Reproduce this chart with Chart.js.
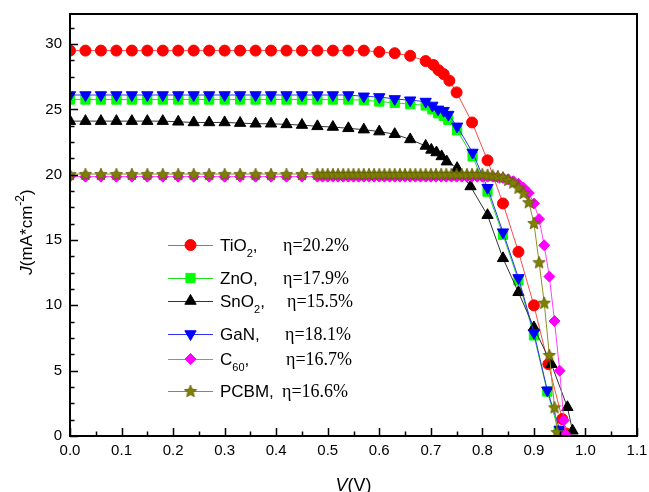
<!DOCTYPE html>
<html>
<head>
<meta charset="utf-8">
<script src="https://cdn.jsdelivr.net/npm/chart.js@4.4.1/dist/chart.umd.min.js"></script>
<style>
  html, body { margin: 0; padding: 0; background: #fff; }
</style>
</head>
<body>
<canvas id="jv" width="649" height="492"></canvas>
<script>
// J-V curves, voltage in V, current density in mA/cm2
const sparseV = [0, 0.03, 0.06, 0.09, 0.12, 0.15, 0.18, 0.21, 0.24, 0.27, 0.30, 0.33,
  0.36, 0.39, 0.42, 0.45, 0.48, 0.51, 0.54, 0.57, 0.60, 0.63, 0.66];

const tioV = sparseV.concat([0.69, 0.705, 0.715, 0.725, 0.736, 0.75, 0.78, 0.81, 0.84, 0.87, 0.90, 0.928, 0.955, 0.962]);
const tioJ = [29.5, 29.5, 29.5, 29.5, 29.5, 29.5, 29.5, 29.5, 29.5, 29.5, 29.5, 29.5,
  29.5, 29.5, 29.5, 29.5, 29.5, 29.5, 29.5, 29.5, 29.4, 29.3, 29.1,
  28.7, 28.4, 28.0, 27.7, 27.2, 26.3, 24.0, 21.1, 17.8, 14.1, 10.0, 5.5, 1.3, 0.2];

const znoV = sparseV.concat([0.69, 0.703, 0.714, 0.725, 0.734, 0.751, 0.781, 0.81, 0.84, 0.87, 0.90, 0.926, 0.948]);
const znoJ = [25.75, 25.75, 25.75, 25.75, 25.75, 25.75, 25.75, 25.75, 25.75, 25.75, 25.75, 25.75,
  25.75, 25.75, 25.75, 25.75, 25.75, 25.75, 25.75, 25.7, 25.6, 25.5, 25.4,
  25.3, 25.0, 24.7, 24.5, 24.2, 23.4, 21.4, 18.7, 15.4, 11.9, 7.7, 3.4, 0.4];

const snoV = sparseV.concat([0.69, 0.701, 0.711, 0.721, 0.731, 0.751, 0.777, 0.81, 0.84, 0.87, 0.90, 0.934, 0.965, 0.975]);
const snoJ = [24.1, 24.1, 24.1, 24.1, 24.1, 24.1, 24.1, 24.05, 24.0, 24.0, 24.0, 23.95,
  23.9, 23.9, 23.85, 23.8, 23.7, 23.65, 23.55, 23.45, 23.3, 23.1, 22.7,
  22.2, 21.9, 21.7, 21.4, 21.0, 20.5, 19.1, 16.9, 13.6, 11.0, 8.3, 5.5, 2.2, 0.4];

const ganV = sparseV.concat([0.69, 0.703, 0.714, 0.725, 0.734, 0.751, 0.781, 0.81, 0.84, 0.87, 0.90, 0.926, 0.95]);
const ganJ = [26.1, 26.1, 26.1, 26.1, 26.1, 26.1, 26.1, 26.1, 26.1, 26.1, 26.1, 26.1,
  26.1, 26.1, 26.1, 26.1, 26.1, 26.1, 26.1, 26.0, 25.95, 25.8, 25.7,
  25.6, 25.3, 25.0, 24.9, 24.6, 23.7, 21.7, 19.0, 15.6, 12.1, 7.9, 3.5, 0.5];

// fullerene devices were swept finer past 0.45 V
const fullV = [0, 0.03, 0.06, 0.09, 0.12, 0.15, 0.18, 0.21, 0.24, 0.27, 0.30, 0.33, 0.36, 0.39, 0.42, 0.45];
const denseV = [0.48, 0.49, 0.50, 0.51, 0.52, 0.53, 0.54, 0.55, 0.56, 0.57, 0.58, 0.59,
  0.60, 0.61, 0.62, 0.63, 0.64, 0.65, 0.66, 0.67, 0.68, 0.69, 0.70, 0.71,
  0.72, 0.73, 0.74, 0.75, 0.76, 0.77, 0.78, 0.79, 0.80, 0.81, 0.82, 0.83,
  0.84, 0.85, 0.86, 0.87, 0.88, 0.89, 0.90];

const c60V = fullV.concat(denseV, [0.91, 0.92, 0.93, 0.94, 0.95, 0.958, 0.962]);
const c60J = [19.85, 19.85, 19.85, 19.85, 19.85, 19.85, 19.85, 19.85, 19.85, 19.85, 19.85, 19.85, 19.85, 19.85, 19.85, 19.85,
  19.85, 19.85, 19.85, 19.85, 19.85, 19.85, 19.85, 19.85, 19.85, 19.85, 19.85, 19.85,
  19.85, 19.85, 19.85, 19.85, 19.85, 19.85, 19.85, 19.85, 19.85, 19.85, 19.85, 19.85,
  19.85, 19.85, 19.85, 19.85, 19.85, 19.85, 19.85, 19.85, 19.85, 19.85, 19.85, 19.8,
  19.75, 19.65, 19.5, 19.3, 19.0, 18.6, 17.8,
  16.6, 14.6, 12.2, 8.8, 5.0, 1.2, 0.1];

const pcbmV = fullV.concat(denseV, [0.91, 0.92, 0.93, 0.94, 0.945]);
const pcbmJ = [20.05, 20.05, 20.05, 20.05, 20.05, 20.05, 20.05, 20.05, 20.05, 20.05, 20.05, 20.05, 20.05, 20.05, 20.05, 20.05,
  20.05, 20.05, 20.05, 20.05, 20.05, 20.05, 20.05, 20.05, 20.05, 20.05, 20.05, 20.05,
  20.05, 20.05, 20.05, 20.05, 20.05, 20.05, 20.05, 20.05, 20.05, 20.05, 20.05, 20.05,
  20.05, 20.05, 20.05, 20.05, 20.05, 20.05, 20.05, 20.05, 20.05, 20.0, 19.95, 19.9,
  19.8, 19.6, 19.4, 19.0, 18.6, 17.9, 16.3,
  13.3, 10.2, 6.2, 2.2, 0.3];

const xTickLabels = ['0.0', '0.1', '0.2', '0.3', '0.4', '0.5', '0.6', '0.7', '0.8', '0.9', '1.0', '1.1'];
const yTickLabels = ['0', '5', '10', '15', '20', '25', '30'];

const names = ['TiO', 'ZnO', 'SnO', 'GaN', 'C', 'PCBM'];
const subs = ['2', '', '2', '', '60', ''];
const effs = ['η=20.2%', 'η=17.9%', 'η=15.5%', 'η=18.1%', 'η=16.7%', 'η=16.6%'];

const SANS = '"Liberation Sans", Arial, sans-serif';
const SERIF = '"Liberation Serif", "Times New Roman", serif';

function makeStar(size, fill, stroke) {
  const c = document.createElement('canvas');
  c.width = c.height = size;
  const g = c.getContext('2d');
  const cx = size / 2, cy = size / 2 + 0.6, R = size / 2 - 0.5, r = R * 0.45;
  g.beginPath();
  for (let i = 0; i < 10; i++) {
    const a = -Math.PI / 2 + i * Math.PI / 5;
    const rr = i % 2 ? r : R;
    g.lineTo(cx + rr * Math.cos(a), cy + rr * Math.sin(a));
  }
  g.closePath();
  g.fillStyle = fill;
  g.fill();
  g.strokeStyle = stroke;
  g.lineWidth = 0.8;
  g.stroke();
  return c;
}
const star = makeStar(14, '#808000', '#5c5c00');

function series(label, vs, js, color, line, style, radius, rotation) {
  return {
    label,
    data: vs.map((v, i) => ({ x: v, y: js[i] })),
    borderColor: line,
    backgroundColor: color,
    pointBackgroundColor: color,
    pointBorderColor: color,
    pointStyle: style,
    pointRadius: radius,
    pointRotation: rotation || 0,
    borderWidth: 1,
    pointBorderWidth: 1,
    showLine: true,
    tension: 0
  };
}

const datasets = [
  series('TiO2', tioV, tioJ, '#ff0000', '#ff4a4a', 'circle', 5.5),
  series('ZnO', znoV, znoJ, '#00ff00', '#20e020', 'rect', 6.5),
  series('SnO2', snoV, snoJ, '#000000', '#333333', 'triangle', 6.5),
  series('GaN', ganV, ganJ, '#0000ff', '#3030ff', 'triangle', 6.5, 180),
  series('C60', c60V, c60J, '#ff00ff', '#ff40ff', 'rectRot', 5.5),
  series('PCBM', pcbmV, pcbmJ, '#808000', '#909020', star, 7)
];
// later curves sit on top
datasets.forEach((d, i) => { d.order = datasets.length - i; });

const frame = {
  id: 'frame',
  afterDraw(chart) {
    const { ctx, chartArea: a, scales: { x, y } } = chart;
    ctx.save();
    ctx.strokeStyle = '#000';
    ctx.lineWidth = 1.5;
    ctx.beginPath();
    for (let k = 0; k <= 22; k++) {
      const px = Math.round(x.getPixelForValue(k * 0.05)) + 0.5;
      ctx.moveTo(px, a.bottom);
      ctx.lineTo(px, a.bottom - (k % 2 ? 4.5 : 8));
    }
    for (let k = 0; k <= 25; k++) {
      const py = Math.round(y.getPixelForValue(k * 1.25)) + 0.5;
      ctx.moveTo(a.left, py);
      ctx.lineTo(a.left + (k % 4 ? 4.5 : 8), py);
    }
    ctx.stroke();
    ctx.lineWidth = 2;
    ctx.strokeRect(a.left, a.top, a.right - a.left, a.bottom - a.top);

    // axis titles
    ctx.fillStyle = '#000';
    ctx.textBaseline = 'alphabetic';
    ctx.font = 'italic 18px ' + SANS;
    const wV = ctx.measureText('V').width;
    ctx.font = '18px ' + SANS;
    const wRest = ctx.measureText('(V)').width;
    const sx = (a.left + a.right) / 2 - (wV + wRest) / 2;
    ctx.font = 'italic 18px ' + SANS;
    ctx.fillText('V', sx, 491);
    ctx.font = '18px ' + SANS;
    ctx.fillText('(V)', sx + wV, 491);

    ctx.translate(32, 232);
    ctx.rotate(-Math.PI / 2);
    const parts = [
      ['J', 'italic 17px ' + SANS, 0],
      ['(mA*cm', '17px ' + SANS, 0],
      ['-2', '12px ' + SANS, -8],
      [')', '17px ' + SANS, 0]
    ];
    let total = 0;
    parts.forEach(p => { ctx.font = p[1]; total += ctx.measureText(p[0]).width; });
    let u = -total / 2;
    parts.forEach(p => {
      ctx.font = p[1];
      ctx.fillText(p[0], u, p[2]);
      u += ctx.measureText(p[0]).width;
    });
    ctx.restore();

    // key inside the plot
    const rowY = [245, 278, 301, 334, 359, 391];
    const effX = [283, 283, 287, 285, 286, 282];
    ctx.save();
    chart.data.datasets.forEach((d, i) => {
      const yy = rowY[i];
      ctx.strokeStyle = d.borderColor;
      ctx.lineWidth = 1;
      ctx.beginPath();
      ctx.moveTo(168, yy + 0.5);
      ctx.lineTo(213, yy + 0.5);
      ctx.stroke();
      ctx.fillStyle = d.pointBackgroundColor;
      ctx.strokeStyle = d.pointBorderColor;
      Chart.helpers.drawPoint(ctx, {
        pointStyle: d.pointStyle, rotation: d.pointRotation,
        radius: d.pointRadius, borderWidth: 1
      }, 190.5, yy);

      ctx.fillStyle = '#000';
      ctx.textBaseline = 'alphabetic';
      ctx.font = '17px ' + SANS;
      let tx = 220;
      ctx.fillText(names[i], tx, yy + 6);
      tx += ctx.measureText(names[i]).width;
      if (subs[i]) {
        ctx.font = '11px ' + SANS;
        ctx.fillText(subs[i], tx, yy + 12);
        tx += ctx.measureText(subs[i]).width;
      }
      ctx.font = '17px ' + SANS;
      ctx.fillText(',', tx, yy + 6);
      ctx.font = '18px ' + SERIF;
      ctx.fillText(effs[i], effX[i], yy + 6);
    });
    ctx.restore();
  }
};

new Chart(document.getElementById('jv'), {
  type: 'scatter',
  data: { datasets },
  options: {
    responsive: false,
    animation: false,
    layout: { padding: { top: 14, right: 12, left: 0, bottom: 0 } },
    plugins: { legend: { display: false }, tooltip: { enabled: false } },
    scales: {
      x: {
        type: 'linear', min: 0, max: 1.1,
        afterFit: s => { s.height = 56; s.paddingLeft = 0; s.paddingRight = 0; },
        grid: { display: false, drawTicks: false },
        border: { display: false },
        ticks: {
          stepSize: 0.1, includeBounds: false, autoSkip: false, maxRotation: 0,
          padding: 6, color: '#000', font: { family: SANS, size: 15 },
          callback: v => xTickLabels[Math.round(v * 10)]
        }
      },
      y: {
        type: 'linear', min: 0, max: 32.3,
        afterFit: s => { s.width = 70; s.paddingTop = 0; s.paddingBottom = 0; },
        grid: { display: false, drawTicks: false },
        border: { display: false },
        ticks: {
          stepSize: 5, includeBounds: false, padding: 8,
          color: '#000', font: { family: SANS, size: 15 },
          callback: v => yTickLabels[Math.round(v / 5)]
        }
      }
    }
  },
  plugins: [frame]
});
</script>
</body>
</html>
